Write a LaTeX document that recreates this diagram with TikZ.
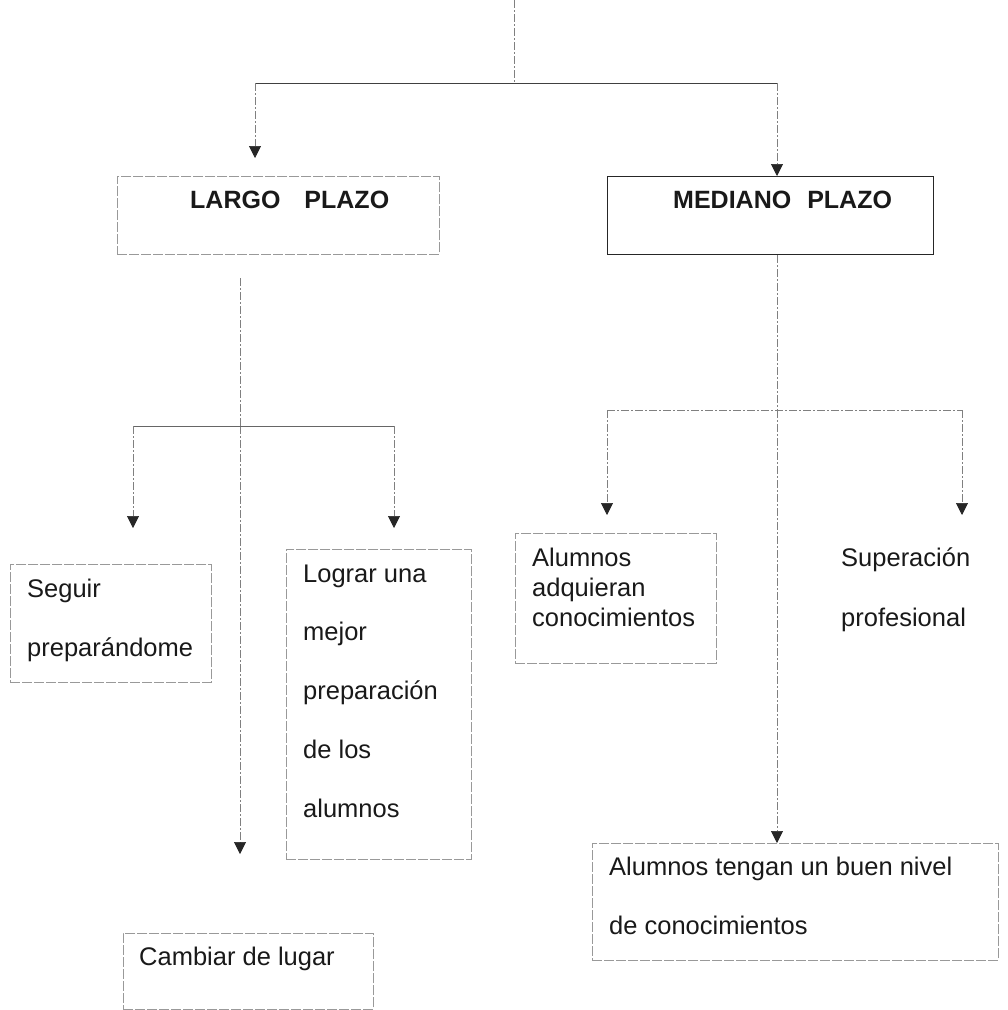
\documentclass[tikz,border=0pt]{standalone}
\usepackage{fontspec}
\setmainfont{Liberation Sans}
\usetikzlibrary{arrows.meta}
\begin{document}
\begin{tikzpicture}[x=1pt,y=-1pt,
  conn/.style={draw=black!50, line width=0.7pt, dash pattern=on 8pt off 2pt on 2pt off 2pt},
  hline/.style={draw=black!75, line width=0.9pt},
  arrowtip/.style={-{Triangle[width=12pt,length=12pt,color=black!85]}},
  dbox/.style={draw=black!40, line width=0.7pt, dash pattern=on 10pt off 2pt, rectangle, inner sep=0pt, anchor=north west},
  sbox/.style={draw=black!85, line width=1.1pt, rectangle, inner sep=0pt, anchor=north west},
  txt/.style={anchor=base west, inner sep=0pt, text=black!90, font=\fontsize{25.5}{30}\selectfont},
  btxt/.style={txt, font=\fontsize{25}{30}\selectfont\bfseries},
]
\useasboundingbox (0,0) rectangle (1008,1010);

% ---- top level
\coordinate (top) at (514,0);
\coordinate (hub) at (514,83);
\node[dbox, minimum width=322pt, minimum height=78pt] (largo) at (117,176) {};
\node[btxt] (largoT) at (190,208) {LARGO\hspace{24pt}PLAZO};
\node[sbox, minimum width=326pt, minimum height=78pt] (mediano) at (607,176) {};
\node[btxt] (medianoT) at (673,208) {MEDIANO\hspace{16pt}PLAZO};
\coordinate (largoIn) at (255,158);
\coordinate (medianoIn) at (777,176);

\draw[conn] (top) -- (hub);
\draw[hline] (hub -| largoIn) -- (hub -| medianoIn);
\draw[conn, arrowtip] (hub -| largoIn) -- (largoIn);
\draw[conn, arrowtip] (hub -| medianoIn) -- (medianoIn);

% ---- largo plazo branch
\coordinate (lStart) at (240,278);
\coordinate (lHub) at (240,426);
\coordinate (seguirIn) at (133,528);
\coordinate (lograrIn) at (394,528);
\coordinate (cambiarIn) at (240,854);

\node[dbox, minimum width=201pt, minimum height=118pt] (seguir) at (10,564) {};
\node[txt] (seguirT) at (27,597) {\parbox[t]{180pt}{\raggedright\baselineskip=59pt Seguir\\preparándome}};

\node[dbox, minimum width=185pt, minimum height=310pt] (lograr) at (286,549) {};
\node[txt] (lograrT) at (303,582) {\parbox[t]{160pt}{\raggedright\baselineskip=58.75pt Lograr una\\mejor\\preparación\\de los\\alumnos}};

\node[dbox, minimum width=250pt, minimum height=76pt] (cambiar) at (123,933) {};
\node[txt] (cambiarT) at (139,965) {Cambiar de lugar};

\draw[conn] (lStart) -- (lHub);
\draw[conn, arrowtip] (lHub) -- (cambiarIn);
\draw[hline, draw=black!60] (lHub -| seguirIn) -- (lHub -| lograrIn);
\draw[conn, arrowtip] (lHub -| seguirIn) -- (seguirIn);
\draw[conn, arrowtip] (lHub -| lograrIn) -- (lograrIn);

% ---- mediano plazo branch
\coordinate (rHub) at (777,410);
\coordinate (alumnosIn) at (607,515);
\coordinate (superIn) at (962,515);

\node[dbox, minimum width=201pt, minimum height=130pt] (alumnos) at (515,533) {};
\node[txt] (alumnosT) at (532,566) {\parbox[t]{175pt}{\raggedright\baselineskip=30pt Alumnos\\adquieran\\conocimientos}};

\node[txt] (superT) at (841,566) {\parbox[t]{150pt}{\raggedright\baselineskip=60pt Superación\\profesional}};

\node[dbox, minimum width=406pt, minimum height=117pt] (nivel) at (592,843) {};
\node[txt] (nivelT) at (609,875) {\parbox[t]{380pt}{\raggedright\baselineskip=59pt Alumnos tengan un buen nivel\\de conocimientos}};

\draw[conn] (mediano.south -| rHub) -- (rHub);
\draw[conn, arrowtip] (rHub) -- (nivel.north -| rHub);
\draw[conn] (rHub -| alumnosIn) -- (rHub -| superIn);
\draw[conn, arrowtip] (rHub -| alumnosIn) -- (alumnosIn);
\draw[conn, arrowtip] (rHub -| superIn) -- (superIn);
\end{tikzpicture}
\end{document}
